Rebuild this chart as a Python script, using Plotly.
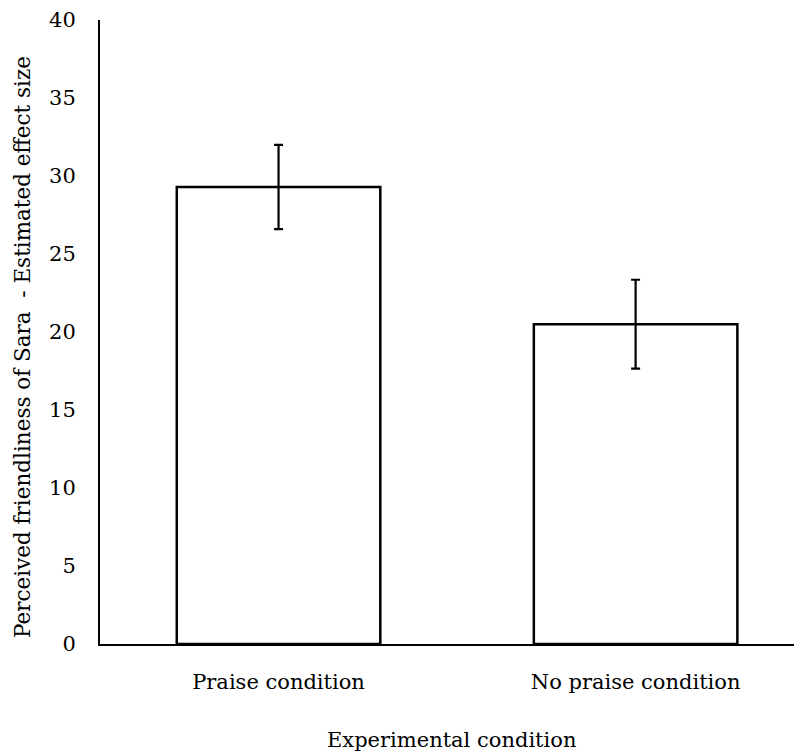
import plotly.graph_objects as go

categories = ["Praise condition", "No praise condition"]
values = [29.3, 20.5]
errors = [2.7, 2.85]
y_ticks = [0, 5, 10, 15, 20, 25, 30, 35, 40]

font = "DejaVu Serif, Liberation Serif, serif"
fs = 21
# page body has an 8px margin, so work in figure coords offset by 8
OFF = 8
W, H = 802 - OFF, 754 - OFF
left, top, bottom_y = 100 - OFF, 20 - OFF, 644 - OFF
plot_h = bottom_y - top
plot_w = W - left

fig = go.Figure()
fig.add_trace(go.Bar(
    x=categories, y=values, width=0.57,
    marker=dict(color="white", line=dict(color="black", width=2.5)),
    error_y=dict(type="data", array=errors, visible=True, color="black", thickness=2.2, width=4.5),
))

fig.update_layout(
    width=W, height=H,
    margin=dict(l=left, r=0, t=top, b=H - bottom_y, autoexpand=False),
    plot_bgcolor="white", paper_bgcolor="white",
    showlegend=False,
    font=dict(family=font, size=fs, color="black"),
    xaxis=dict(
        range=[-0.5, 1.466], showline=True, linecolor="black", linewidth=2,
        ticks="", showgrid=False, ticklabelstandoff=18,
        tickfont=dict(family=font, size=fs, color="black"),
    ),
    yaxis=dict(
        range=[0, 40], tickvals=y_ticks, showline=True, linecolor="black", linewidth=2,
        ticks="", showgrid=False, zeroline=False, ticklabelstandoff=18,
        tickfont=dict(family=font, size=fs, color="black"),
    ),
    annotations=[
        dict(text="Experimental condition", xref="paper", yref="paper",
             x=0.5, y=-(740 - 644) / plot_h, xanchor="center", yanchor="middle",
             showarrow=False, font=dict(family=font, size=fs, color="black")),
        dict(text="Perceived friendliness of Sara  - Estimated effect size", xref="paper", yref="paper",
             x=-(100 - 22) / plot_w, y=(644 - 347) / plot_h, xanchor="center", yanchor="middle", textangle=-90,
             showarrow=False, font=dict(family=font, size=fs + 0.5, color="black")),
    ],
)

fig.write_html("out.html")
